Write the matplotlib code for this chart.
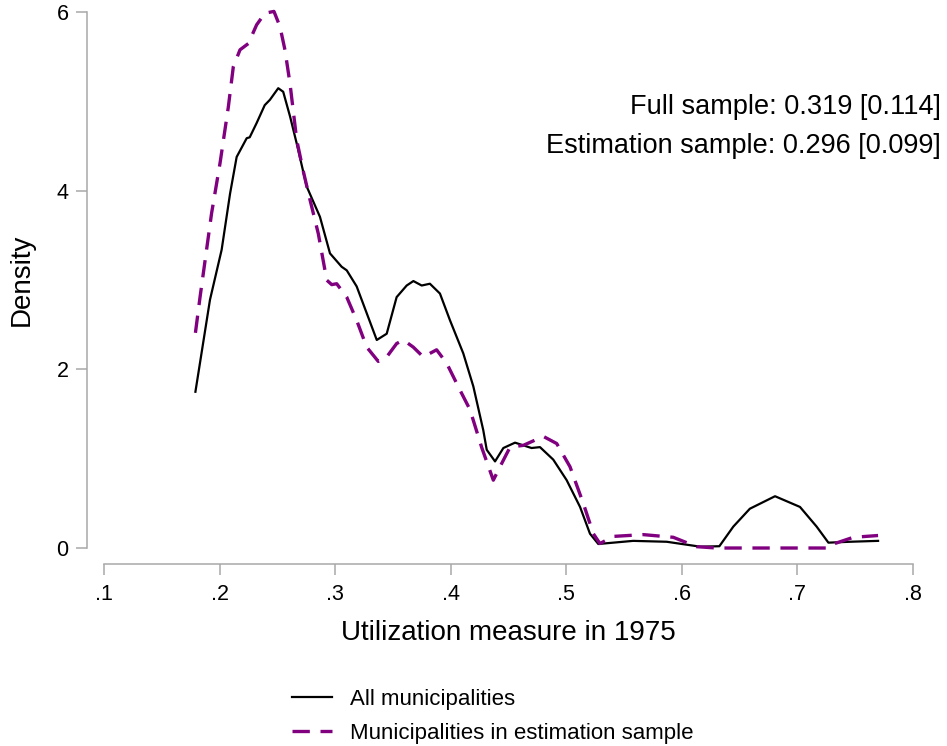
import matplotlib
matplotlib.use("Agg")
import matplotlib.pyplot as plt

plt.rcParams['font.family'] = ['Liberation Sans', 'DejaVu Sans']

# ---- data ----
all_x = [0.179, 0.1916, 0.2017, 0.209, 0.2147, 0.2234, 0.226, 0.232, 0.239, 0.2435,
         0.2507, 0.255, 0.261, 0.2667, 0.2753, 0.2868, 0.2955, 0.3056, 0.310, 0.3186,
         0.3273, 0.336, 0.3446, 0.3532, 0.3619, 0.3677, 0.3749, 0.382, 0.3907, 0.3994,
         0.4109, 0.4196, 0.4282, 0.4312, 0.4384, 0.4456, 0.4557, 0.470, 0.4773, 0.4888,
         0.5004, 0.512, 0.5206, 0.5278, 0.558, 0.587, 0.616, 0.6326, 0.6447, 0.659,
         0.6808, 0.7024, 0.7168, 0.727, 0.7457, 0.770]
all_y = [1.75, 2.78, 3.34, 3.97, 4.38, 4.59, 4.60, 4.76, 4.96, 5.02,
         5.15, 5.11, 4.83, 4.53, 4.05, 3.71, 3.30, 3.15, 3.11, 2.93,
         2.63, 2.33, 2.40, 2.81, 2.94, 2.99, 2.94, 2.96, 2.85, 2.55,
         2.18, 1.81, 1.32, 1.10, 0.97, 1.12, 1.18, 1.12, 1.13, 0.99,
         0.76, 0.46, 0.16, 0.045, 0.08, 0.07, 0.015, 0.02, 0.24, 0.44,
         0.58, 0.46, 0.24, 0.06, 0.07, 0.08]

est_x = [0.179, 0.183, 0.193, 0.2003, 0.2075, 0.2118, 0.2176, 0.2248, 0.232, 0.2392,
         0.247, 0.2522, 0.2565, 0.2609, 0.2667, 0.2724, 0.2782, 0.2854, 0.2927, 0.297,
         0.3013, 0.310, 0.3186, 0.3273, 0.3373, 0.3446, 0.3532, 0.359, 0.3676, 0.3763,
         0.3878, 0.3965, 0.408, 0.4167, 0.427, 0.4369, 0.4427, 0.4514, 0.4629, 0.4802,
         0.4918, 0.5033, 0.5148, 0.5235, 0.5292, 0.5408, 0.5667, 0.5927, 0.613, 0.630,
         0.700, 0.727, 0.7313, 0.7486, 0.770]
est_y = [2.41, 2.81, 3.75, 4.31, 4.94, 5.39, 5.58, 5.65, 5.86, 5.99,
         6.01, 5.84, 5.58, 5.20, 4.57, 4.22, 3.90, 3.52, 3.00, 2.95,
         2.96, 2.81, 2.55, 2.25, 2.09, 2.14, 2.29, 2.33, 2.25, 2.14,
         2.22, 2.07, 1.77, 1.55, 1.12, 0.76, 0.91, 1.13, 1.15, 1.25,
         1.17, 0.91, 0.50, 0.16, 0.05, 0.13, 0.15, 0.12, 0.015, 0.0,
         0.0, 0.0, 0.045, 0.12, 0.14]

x_ticks = [0.1, 0.2, 0.3, 0.4, 0.5, 0.6, 0.7, 0.8]
x_ticklabels = ['.1', '.2', '.3', '.4', '.5', '.6', '.7', '.8']
y_ticks = [0, 2, 4, 6]
y_ticklabels = ['0', '2', '4', '6']

series_labels = ['All municipalities', 'Municipalities in estimation sample']
annot_lines = ['Full sample: 0.319 [0.114]', 'Estimation sample: 0.296 [0.099]']

# ---- figure ----
fig = plt.figure(figsize=(9.47, 7.46), dpi=100)
ax = fig.add_axes([0.1100, 0.2654, 0.9638 - 0.1100, 0.9835 - 0.2654])

l1, = ax.plot(all_x, all_y, color='black', lw=1.6, clip_on=False,
              solid_joinstyle='round')
l2, = ax.plot(est_x, est_y, color='#800080', lw=2.4, clip_on=False,
              dashes=(5.2, 3.2))

ax.set_xlim(0.1, 0.8)
ax.set_ylim(0, 6)
ax.set_xticks(x_ticks)
ax.set_xticklabels(x_ticklabels)
ax.set_yticks(y_ticks)
ax.set_yticklabels(y_ticklabels)

for s in ['top', 'right']:
    ax.spines[s].set_visible(False)
gray = '#a8a8a8'
ax.spines['left'].set_position(('outward', 12.6))
ax.spines['bottom'].set_position(('outward', 11.7))
ax.spines['left'].set_bounds(0, 6)
ax.spines['bottom'].set_bounds(0.1, 0.8)
for s in ['left', 'bottom']:
    ax.spines[s].set_color(gray)
    ax.spines[s].set_linewidth(1.1)
ax.tick_params(axis='both', colors=gray, length=8, width=1.1, labelsize=15.5,
               labelcolor='black')
ax.tick_params(axis='y', pad=5)
ax.tick_params(axis='x', pad=6)

ax.set_xlabel('Utilization measure in 1975', fontsize=20)
ax.set_ylabel('Density', fontsize=20)
ax.xaxis.set_label_coords(0.5, -0.135)
ax.yaxis.set_label_coords(-0.086, 0.5)

fig.text(0.9937, 1 - 114 / 746, annot_lines[0], ha='right', va='baseline', fontsize=19.5)
fig.text(0.9937, 1 - 153 / 746, annot_lines[1], ha='right', va='baseline', fontsize=19.5)

fig.legend([l1, l2], series_labels, loc='upper left',
           bbox_to_anchor=(292 / 947, 1 - 689 / 746), frameon=False,
           fontsize=16, handlelength=1.8, handletextpad=0.8,
           borderpad=0, borderaxespad=0, labelspacing=0.58)

fig.savefig('out.png', dpi=100)
